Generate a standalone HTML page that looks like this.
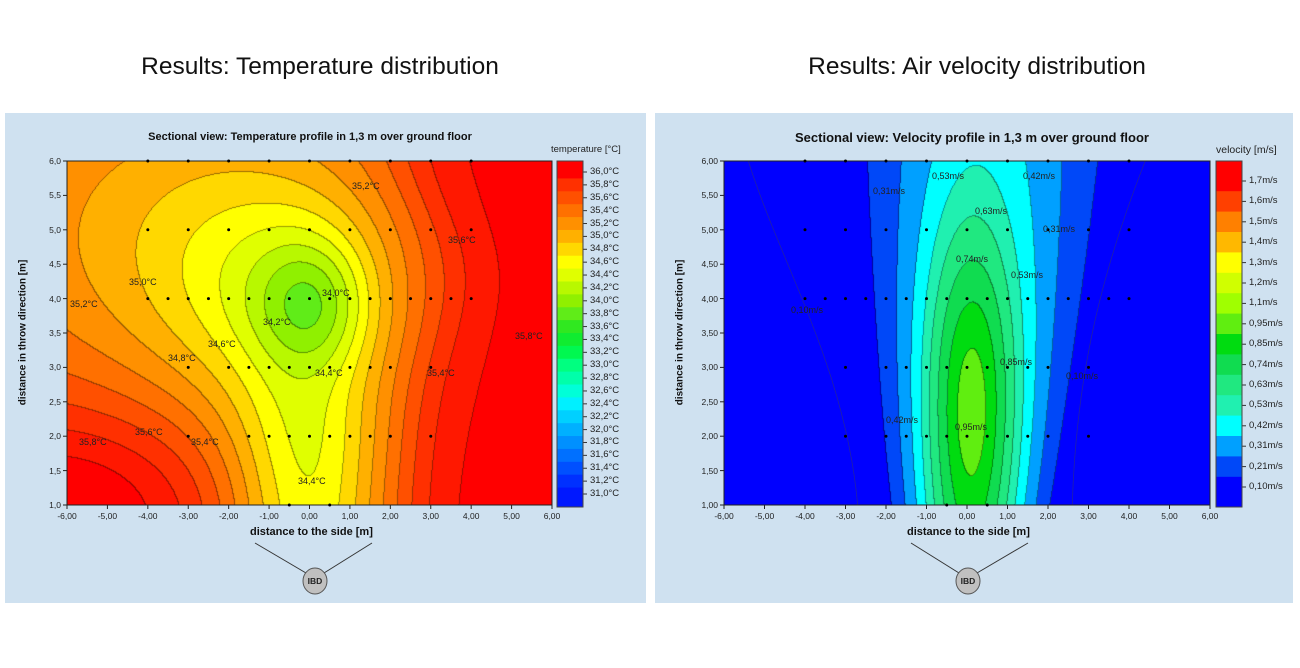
<!DOCTYPE html>
<html><head><meta charset="utf-8">
<style>
body{margin:0;width:1300px;height:668px;background:#fff;position:relative;overflow:hidden;font-family:"Liberation Sans",Arial,sans-serif;}
.h{position:absolute;top:53px;font-size:24.5px;color:#111;text-align:center;width:640px}
.panel{position:absolute;top:113px;height:490px;background:#cfe1f0}
canvas{position:absolute}
.t{position:absolute;font-size:9px;color:#222;white-space:nowrap}
.title{position:absolute;font-weight:bold;font-size:13px;color:#111;white-space:nowrap;transform:translateX(-50%)}
.ax{position:absolute;font-weight:bold;font-size:11px;color:#111;white-space:nowrap}
</style></head><body>
<div class="h" style="left:0px">Results: Temperature distribution</div>
<div class="h" style="left:657px">Results: Air velocity distribution</div>
<div class="panel" style="left:5px;width:641px"></div>
<div class="panel" style="left:655px;width:638px"></div>
<div class="title" style="left:310px;top:131px;font-size:11px">Sectional view: Temperature profile in 1,3 m over ground floor</div>
<div class="title" style="left:972px;top:130px">Sectional view: Velocity profile in 1,3 m over ground floor</div>
<canvas id="c1" width="485" height="344" style="left:67px;top:161px"></canvas>
<canvas id="c2" width="486" height="344" style="left:724px;top:161px"></canvas>
<svg id="ov" width="1300" height="668" style="position:absolute;left:0;top:0"></svg>
<div id="txt"></div>
<script>
function sig(z){return 1/(1+Math.exp(-z));}
function T(x,y){
 var TL=0.8*Math.exp(-((x+3)*(x+3)/40.5+(y-5)*(y-5)/8))*sig((3-x)/1.0);
 var blob=0.7*Math.exp(-((x+0.6)*(x+0.6)/9.68+(y-3.9)*(y-3.9)/3.38));
 var core=0.7*Math.exp(-((x-0.1)*(x-0.1)/2+(y-3.9)*(y-3.9)/0.98));
 var stem=1.2*Math.exp(-x*x/3.92)*sig((2.6-y)/0.5);
 var bl=0.6*Math.exp(-((x+6)*(x+6)/12+(y-1)*(y-1)/2));
 var xr=2.7+0.9*Math.exp(-(y-4.3)*(y-4.3)/1.5)-0.3*Math.exp(-(y-6)*(y-6)/0.8);
 var r=0.4*sig((x-xr)/0.5);
 return 35.9-TL-blob-core-stem+bl+r;
}
function V(x,y){
 var s=1.2+0.18*(y-1),A=0.55-0.03*(y-1),c=0.1+0.06*(y-1);
 var W=A*Math.exp(-(x-c)*(x-c)/(2*s*s));
 var K=0.45*Math.exp(-((x-0.1)*(x-0.1)/1.28+(y-2.6)*(y-2.6)/6.48));
 return 0.05+W+K;
}
var tCols=["#0000ff","#0018ff","#0030ff","#0050ff","#0070ff","#0090ff","#00b0ff","#00d0ff","#00f0ff","#00ffd8","#00ffaa","#00ff80","#00f850","#10ec30","#30e820","#60ec18","#90f000","#b8f800","#e0ff00","#ffff00","#ffd800","#ffb000","#ff9000","#ff7000","#ff5000","#ff3000","#ff1800","#ff0000"];
function tBand(v){var k=Math.floor((v-31.0)/0.2)+1;if(k<0)k=0;if(k>27)k=27;return k;}
var vLev=[0.21,0.31,0.42,0.53,0.63,0.74,0.85,0.95,1.1,1.2,1.3,1.4,1.5,1.6,1.7];
var vCols=["#0000ff","#0048f8","#00a0ff","#00ffff","#20f0b0","#20e880","#10dc50","#00dc10","#60ee10","#a0ff00","#d0ff00","#ffff00","#ffb800","#ff8000","#ff4000","#ff0000"];
function vBand(v){var k=0;while(k<vLev.length&&v>=vLev[k])k++;return k;}
function hex(h){return [parseInt(h.substr(1,2),16),parseInt(h.substr(3,2),16),parseInt(h.substr(5,2),16)];}
function draw(id,f,band,cols,W,H){
 var cv=document.getElementById(id),ctx=cv.getContext('2d'),img=ctx.createImageData(W,H);
 var B=new Array(W*H);
 for(var j=0;j<H;j++)for(var i=0;i<W;i++){var x=-6+12*i/(W-1),y=6-5*j/(H-1);B[j*W+i]=band(f(x,y));}
 var C=cols.map(hex);
 for(var j=0;j<H;j++)for(var i=0;i<W;i++){
  var b=B[j*W+i],c=C[b],p=(j*W+i)*4,edge=false;
  if(i<W-1&&B[j*W+i+1]!=b)edge=true;if(j<H-1&&B[(j+1)*W+i]!=b)edge=true;
  var m=edge?0.6:1;
  img.data[p]=c[0]*m;img.data[p+1]=c[1]*m;img.data[p+2]=c[2]*m;img.data[p+3]=255;}
 ctx.putImageData(img,0,0);
}
draw('c1',T,tBand,tCols,485,344);
draw('c2',V,vBand,vCols,486,344);

var s='',t='';
function txt(x,y,str,cls,st){t+='<div class="'+(cls||'t')+'" style="left:'+x+'px;top:'+y+'px;'+(st||'')+'">'+str+'</div>';}
function px(L,R,x){return L+(R-L)*(x+6)/12;}function py(y){return 505-(y-1)*68.8;}
s+='<path d="M'+px(724,1210,-5.4)+','+py(6)+' C'+px(724,1210,-4.6)+','+py(4.5)+' '+px(724,1210,-3)+','+py(3)+' '+px(724,1210,-2.7)+','+py(1)+'" fill="none" stroke="#2020a8" stroke-width="0.8"/>';
s+='<path d="M'+px(724,1210,4.4)+','+py(6)+' C'+px(724,1210,3.4)+','+py(4.5)+' '+px(724,1210,2.7)+','+py(3)+' '+px(724,1210,2.6)+','+py(1)+'" fill="none" stroke="#2020a8" stroke-width="0.8"/>';
function axes(L,R,dec){
 var top=161,bot=505;
 s+='<rect x="'+L+'" y="'+top+'" width="'+(R-L)+'" height="'+(bot-top)+'" fill="none" stroke="#222" stroke-width="1"/>';
 for(var k=0;k<=12;k++){var x=L+(R-L)*k/12;s+='<line x1="'+x+'" y1="'+bot+'" x2="'+x+'" y2="'+(bot+4)+'" stroke="#222"/>';
  var v=(k-6).toFixed(2).replace('.',',');txt(x-13,bot+6,v,'t','font-size:8.5px;width:26px;text-align:center');}
 for(var k=0;k<=10;k++){var y=bot-(bot-top)*k/10;s+='<line x1="'+(L-4)+'" y1="'+y+'" x2="'+L+'" y2="'+y+'" stroke="#222"/>';
  var v=(1+k*0.5).toFixed(dec).replace('.',',');txt(L-34,y-5,v,'t','font-size:8.5px;width:28px;text-align:right');}
}
axes(67,552,1);axes(724,1210,2);
function dots(L,R,pts){pts.forEach(function(p){s+='<circle cx="'+px(L,R,p[0])+'" cy="'+py(p[1])+'" r="1.5" fill="#000"/>';});}
var P=[];
[-4,-3,-2,-1,0,1,2,3,4].forEach(function(x){P.push([x,5]);P.push([x,6]);});
for(var x=-4;x<=4;x+=0.5)P.push([x,4]);
[-3,-2,-1.5,-1,-0.5,0,0.5,1,1.5,2,3].forEach(function(x){P.push([x,3]);});
[-3,-1.5,-1,-0.5,0,0.5,1,1.5,2,3].forEach(function(x){P.push([x,2]);});
P.push([-0.5,1]);P.push([0.5,1]);
dots(67,552,P);
var P2=P.slice();P2.push([-2,2]);dots(724,1210,P2);
function cbar(x,w,labels,cols,y0,dy){
 var n=labels.length;
 for(var i=0;i<n;i++){var yc=y0+dy*i;var yt=(i==0)?161:yc-dy/2;var yb=(i==n-1)?507:yc+dy/2;
  s+='<rect x="'+x+'" y="'+yt+'" width="'+w+'" height="'+(yb-yt+0.5)+'" fill="'+cols[i]+'"/>';
  s+='<line x1="'+(x+w)+'" y1="'+yc+'" x2="'+(x+w+4)+'" y2="'+yc+'" stroke="#333"/>';
  txt(x+w+7,yc-6,labels[i],'t','font-size:9.5px');}
 s+='<rect x="'+x+'" y="161" width="'+w+'" height="346" fill="none" stroke="#444"/>';
}
var tl=[],tc=[];for(var i=0;i<26;i++){var v=36.0-0.2*i;tl.push(v.toFixed(1).replace('.',',')+'°C');tc.push(tCols[26-i]);}
tc[0]='#ff0000';
cbar(557,26,tl,tc,172,12.88);
var vl=['1,7m/s','1,6m/s','1,5m/s','1,4m/s','1,3m/s','1,2m/s','1,1m/s','0,95m/s','0,85m/s','0,74m/s','0,63m/s','0,53m/s','0,42m/s','0,31m/s','0,21m/s','0,10m/s'];
var vc=[];for(var i=0;i<16;i++)vc.push(vCols[15-i]);
cbar(1216,26,vl,vc,181,20.4);
txt(551,144,'temperature [°C]','t','font-size:9.5px');
txt(1216,144,'velocity [m/s]','t','font-size:10.5px');
txt(250,526,'distance to the side [m]','ax');
txt(907,526,'distance to the side [m]','ax');
txt(-52,327,'distance in throw direction [m]','ax','transform:rotate(-90deg);transform-origin:center;width:150px;text-align:center;font-size:10px');
txt(605,327,'distance in throw direction [m]','ax','transform:rotate(-90deg);transform-origin:center;width:150px;text-align:center;font-size:10px');
function ibd(cx,a,b){s+='<line x1="'+a+'" y1="543" x2="'+(cx-9)+'" y2="573" stroke="#333"/><line x1="'+b+'" y1="543" x2="'+(cx+9)+'" y2="573" stroke="#333"/><ellipse cx="'+cx+'" cy="581" rx="12" ry="13" fill="#c0c0c0" stroke="#555"/>';txt(cx-10,576,'IBD','t','font-weight:bold;font-size:8.5px;width:20px;text-align:center');}
ibd(315,255,372);ibd(968,911,1028);
[[352,181,'35,2°C'],[448,235,'35,6°C'],[129,277,'35,0°C'],[70,299,'35,2°C'],[322,288,'34,0°C'],[263,317,'34,2°C'],[208,339,'34,6°C'],[515,331,'35,8°C'],[168,353,'34,8°C'],[315,368,'34,4°C'],[427,368,'35,4°C'],[135,427,'35,6°C'],[79,437,'35,8°C'],[191,437,'35,4°C'],[298,476,'34,4°C']].forEach(function(a){txt(a[0],a[1],a[2]);});
[[873,186,'0,31m/s'],[932,171,'0,53m/s'],[1023,171,'0,42m/s'],[975,206,'0,63m/s'],[1043,224,'0,31m/s'],[956,254,'0,74m/s'],[1011,270,'0,53m/s'],[791,305,'0,10m/s'],[1000,357,'0,85m/s'],[1066,371,'0,10m/s'],[886,415,'0,42m/s'],[955,422,'0,95m/s']].forEach(function(a){txt(a[0],a[1],a[2]);});
document.getElementById('ov').innerHTML=s;
document.getElementById('txt').innerHTML=t;
</script>
</body></html>
